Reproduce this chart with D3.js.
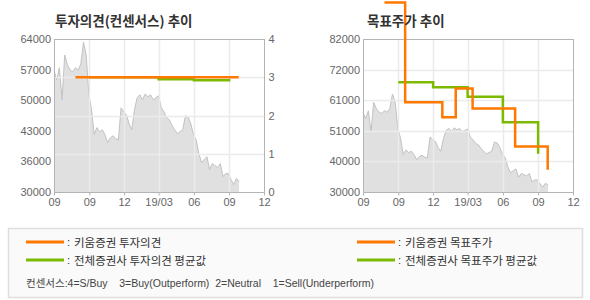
<!DOCTYPE html>
<html>
<head>
<meta charset="utf-8">
<script src="https://cdn.jsdelivr.net/npm/d3@7"></script>
<style>
html,body{margin:0;padding:0;background:#fff;}
svg{display:block;}
text{font-family:"Liberation Sans","Noto Sans CJK KR",Arial,sans-serif;}
</style>
</head>
<body>
<svg id="c" width="590" height="300"></svg>
<script>
// ---------------- DATA ----------------
const xTickDates = ["2018-06-01","2018-09-01","2018-12-01","2019-03-01","2019-06-01","2019-09-01","2019-12-01"];
const xTickLabels = ["09","09","12","19/03","06","09","12"];

const priceTickLabels = ["30000","36000","43000","50000","57000","64000"];
const opinionTickLabels = ["0","1","2","3","4"];
const targetTickLabels = ["30000","40000","51000","61000","72000","82000"];

// weekly stock price (gray area)
const priceDates = ["2018-06-01","2018-06-08","2018-06-15","2018-06-22","2018-06-29","2018-07-06","2018-07-13","2018-07-20","2018-07-27","2018-08-03",
"2018-08-10","2018-08-17","2018-08-24","2018-08-31","2018-09-07","2018-09-14","2018-09-21","2018-09-28","2018-10-05","2018-10-12",
"2018-10-19","2018-10-26","2018-11-02","2018-11-09","2018-11-16","2018-11-23","2018-11-30","2018-12-07","2018-12-14","2018-12-21",
"2018-12-28","2019-01-04","2019-01-11","2019-01-18","2019-01-25","2019-02-01","2019-02-08","2019-02-15","2019-02-22","2019-03-01",
"2019-03-08","2019-03-15","2019-03-22","2019-03-29","2019-04-05","2019-04-12","2019-04-19","2019-04-26","2019-05-03","2019-05-10",
"2019-05-17","2019-05-24","2019-05-31","2019-06-07","2019-06-14","2019-06-21","2019-06-28","2019-07-05","2019-07-12","2019-07-19",
"2019-07-26","2019-08-02","2019-08-09","2019-08-16","2019-08-23","2019-08-30","2019-09-06","2019-09-13","2019-09-20","2019-09-27"];
const priceValues = [57100,54900,57600,50500,60450,58250,57100,56700,57600,57100,
58450,63300,60450,51600,48250,42750,44300,43400,43850,42750,
40950,42050,42500,41850,41600,48700,47800,47150,45150,43850,
48250,50950,51600,50500,51800,51150,51600,50500,50950,51400,
48700,47800,46500,46050,44750,43850,42950,43400,43850,46950,
46700,45150,42750,41600,38550,36550,37200,37850,35000,36300,
35850,35450,36300,33450,34100,34100,32750,31650,33000,32350];

// 키움증권 (orange) – investment opinion & target price
const kiwoomDates = ["2018-07-27","2018-09-19","2018-12-25","2019-01-29","2019-03-14","2019-07-03","2019-09-26"];
const kiwoomOpinion = [3,3,3,3,3,3,3];
const kiwoomTarget = [94400,60500,55400,65200,58400,45500,37600];

// 전체증권사 평균 (green) – consensus
const consDates = ["2018-09-01","2018-12-01","2019-03-01","2019-06-01","2019-09-01"];
const consOpinion = [3,3,2.95,2.92,2.89];
const consTarget = [67300,65600,62400,53700,43000];

const titles = ["투자의견(컨센서스) 추이","목표주가 추이"];
const legendLabels = ["키움증권 투자의견","전체증권사 투자의견 평균값","키움증권 목표주가","전체증권사 목표주가 평균값"];
const legendColors = ["#ff7800","#7cba00","#ff7800","#7cba00"];
const consensusNote = "컨센서스:4=S/Buy    3=Buy(Outperform)  2=Neutral    1=Sell(Underperform)";

// ---------------- DRAW ----------------
const P = d3.timeParse("%Y-%m-%d");
const svg = d3.select("#c");
const ORANGE = "#ff7800", GREEN = "#7cba00";
const price = priceDates.map((d,i)=>({d:P(d), v:priceValues[i]}));

function drawPanel(cfg) {
  const {left, right, top, bottom, priceDomain, priceLabels, title, titleX} = cfg;
  const g = svg.append("g");
  const x = d3.scaleTime().domain([P(xTickDates[0]), P(xTickDates[xTickDates.length-1])]).range([left, right]);
  const y = d3.scaleLinear().domain(priceDomain).range([bottom, top]);
  const n = priceLabels.length - 1;
  const yTicks = d3.range(n+1).map(i => priceDomain[0] + i*(priceDomain[1]-priceDomain[0])/n);

  g.append("path").datum(price)
    .attr("fill","#e0e0e0")
    .attr("d", d3.area().x(d=>x(d.d)).y0(bottom).y1(d=>y(d.v)));
  g.append("path").datum(price)
    .attr("fill","none").attr("stroke","#c2c2c2").attr("stroke-width",1)
    .attr("d", d3.line().x(d=>x(d.d)).y(d=>y(d.v)));

  g.selectAll(".vg").data(xTickDates.slice(1,-1)).enter().append("line")
    .attr("x1",d=>Math.round(x(P(d)))+0.5).attr("x2",d=>Math.round(x(P(d)))+0.5)
    .attr("y1",top).attr("y2",bottom)
    .attr("stroke","#ebebeb").attr("stroke-width",1.5);

  const ax = g.append("g").attr("transform",`translate(0,${bottom+0.5})`)
    .call(d3.axisBottom(x).tickValues(xTickDates.map(P)).tickSize(3).tickPadding(3)
      .tickFormat((d,i)=>xTickLabels[i]));
  ax.select(".domain").remove();
  ax.selectAll("line").attr("stroke","#b4b4b4");
  ax.selectAll("text").attr("fill","#666").attr("font-size","11px");

  const ay = g.append("g").attr("transform",`translate(${left},0)`)
    .call(d3.axisLeft(y).tickValues(yTicks).tickSize(0).tickPadding(3).tickFormat((d,i)=>priceLabels[i]));
  ay.select(".domain").remove();
  ay.selectAll("text").attr("fill","#666").attr("font-size","11px");

  svg.append("text").attr("x",titleX).attr("y",26).text(title)
    .attr("font-size","13.5px").attr("font-weight","bold").attr("fill","#333")
    .style("font-family","'Noto Sans CJK KR',sans-serif");

  return {g, x, y, yTicks};
}

function frame(g, left, right, top, bottom) {
  g.append("rect").attr("x",left+0.5).attr("y",top+0.5).attr("width",right-left).attr("height",bottom-top)
    .attr("fill","none").attr("stroke","#b4b4b4").attr("stroke-width",1);
}

// ---- left panel: investment opinion
const L = {left:54, right:264, top:39, bottom:192};
const lp = drawPanel({...L, priceDomain:[30000,64000], priceLabels:priceTickLabels, title:titles[0], titleX:55});
const yOp = d3.scaleLinear().domain([0,4]).range([L.bottom, L.top]);
const opTicks = opinionTickLabels.map(Number);
lp.g.selectAll(".hg").data(opTicks.slice(1,-1)).enter().append("line")
  .attr("x1",L.left).attr("x2",L.right)
  .attr("y1",d=>Math.round(yOp(d))+0.5).attr("y2",d=>Math.round(yOp(d))+0.5)
  .attr("stroke","#ebebeb").attr("stroke-width",1.5);
const ar = lp.g.append("g").attr("transform",`translate(${L.right+0.5},0)`)
  .call(d3.axisRight(yOp).tickValues(opTicks).tickSize(0).tickPadding(4).tickFormat((d,i)=>opinionTickLabels[i]));
ar.select(".domain").remove();
ar.selectAll("text").attr("fill","#666").attr("font-size","11px");
frame(lp.g, L.left, L.right, L.top, L.bottom);

const stepLine = (xs, ys) => d3.line().curve(d3.curveStepAfter).x(d=>xs(d.d)).y(d=>ys(d.v));
const consOp = consDates.map((d,i)=>({d:P(d), v:consOpinion[i]}));
const kiwOp = kiwoomDates.map((d,i)=>({d:P(d), v:kiwoomOpinion[i]}));
lp.g.append("path").datum(consOp).attr("fill","none").attr("stroke",GREEN).attr("stroke-width",2.5)
  .attr("d", stepLine(lp.x, yOp));
lp.g.append("path").datum(kiwOp).attr("fill","none").attr("stroke",ORANGE).attr("stroke-width",2.5)
  .attr("d", stepLine(lp.x, yOp));

// ---- right panel: target price
const R = {left:363, right:573, top:39, bottom:192};
const rp = drawPanel({...R, priceDomain:[30000,82000], priceLabels:targetTickLabels, title:titles[1], titleX:367});
rp.g.selectAll(".hg").data(rp.yTicks.slice(1,-1)).enter().append("line")
  .attr("x1",R.left).attr("x2",R.right)
  .attr("y1",d=>Math.round(rp.y(d))+0.5).attr("y2",d=>Math.round(rp.y(d))+0.5)
  .attr("stroke","#ebebeb").attr("stroke-width",1.5);
frame(rp.g, R.left, R.right, R.top, R.bottom);
const consT = consDates.map((d,i)=>({d:P(d), v:consTarget[i]}));
const kiwT = kiwoomDates.map((d,i)=>({d:P(d), v:kiwoomTarget[i]}));
rp.g.append("path").datum(consT).attr("fill","none").attr("stroke",GREEN).attr("stroke-width",2.5)
  .attr("d", stepLine(rp.x, rp.y));
rp.g.append("path").datum(kiwT).attr("fill","none").attr("stroke",ORANGE).attr("stroke-width",2.5)
  .attr("d", stepLine(rp.x, rp.y));

// ---- legend
const lg = svg.append("g");
lg.append("rect").attr("x",8.5).attr("y",228.5).attr("width",574).attr("height",69)
  .attr("fill","#fafafa").attr("stroke","#dedede").attr("stroke-width",1.5);
const legPos = [{x:26,y:242},{x:26,y:260},{x:357,y:242},{x:357,y:260}];
legendLabels.forEach((label,i)=>{
  const p = legPos[i];
  lg.append("line").attr("x1",p.x).attr("x2",p.x+38).attr("y1",p.y).attr("y2",p.y)
    .attr("stroke",legendColors[i]).attr("stroke-width",3);
  lg.append("text").attr("x",p.x+41).attr("y",p.y+4).text(":").attr("font-size","11px").attr("fill","#333");
  lg.append("text").attr("x",p.x+48).attr("y",p.y+4.5).text(label)
    .attr("font-size","11.5px").attr("fill","#333").style("font-family","'Noto Sans CJK KR',sans-serif");
});
lg.append("text").attr("x",26).attr("y",287).text(consensusNote)
  .attr("font-size","10.5px").attr("fill","#444").style("white-space","pre");
</script>
</body>
</html>
